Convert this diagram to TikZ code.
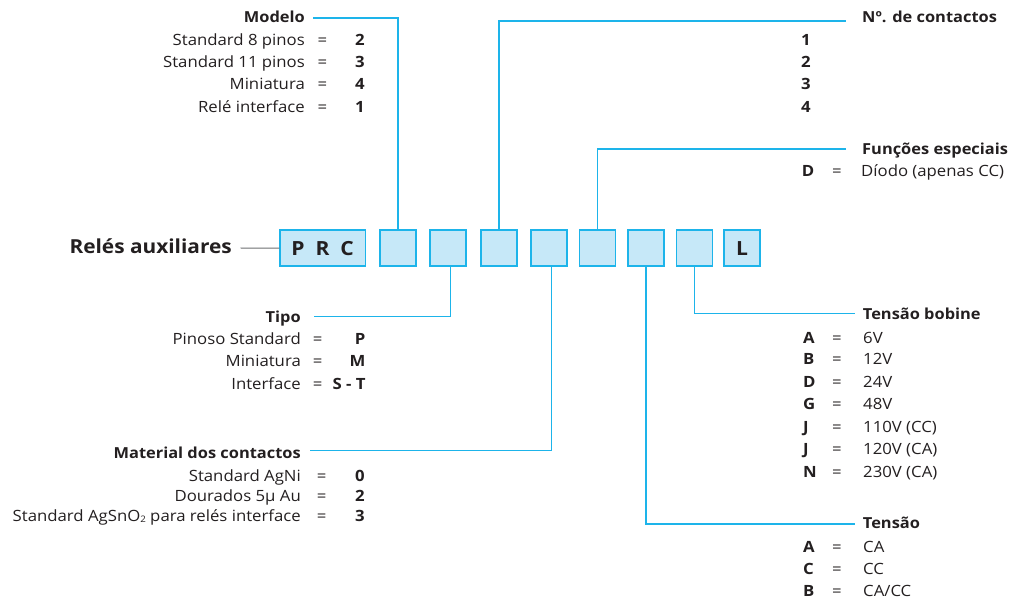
\documentclass[tikz,border=0pt]{standalone}
\usepackage{fontspec}
\setmainfont{Open Sans}[FakeStretch=1.08]
\definecolor{cyanline}{HTML}{1DB4EA}
\definecolor{boxfill}{HTML}{C6E8F8}
\definecolor{txt}{HTML}{231F20}
\definecolor{grayline}{HTML}{6D6E70}
\tikzset{
  codebox/.style={draw=cyanline, fill=boxfill, line width=1.3pt, inner sep=0pt, minimum width=36pt, minimum height=36pt, anchor=north west, text=txt, font=\fontsize{19.5}{22}\selectfont\bfseries},
  conn/.style={draw=cyanline, line width=1.3pt},
  lbl/.style={inner sep=0pt, text=txt, font=\fontsize{15.5}{18}\selectfont},
  lblb/.style={lbl, font=\fontsize{15.5}{18}\selectfont\bfseries},
  ttl/.style={inner sep=0pt, text=txt, font=\fontsize{15.2}{18}\selectfont\bfseries},
}
\begin{document}
\begin{tikzpicture}[x=1pt,y=-1pt]
\useasboundingbox (0,0) rectangle (1016,601);

% main title
\node[inner sep=0pt, text=txt, font=\fontsize{19.3}{22}\selectfont\bfseries, anchor=base east] (title) at (232,254) {Relés auxiliares};
\coordinate (tEnd) at (240.7,248);

% code boxes
\node[codebox, minimum width=85.4pt] (prc) at (279.3,229.5) {P\hspace{11pt}R\hspace{11pt}C};
\node[codebox] (b2) at (379.3,229.5) {};
\node[codebox] (b3) at (429.3,229.5) {};
\node[codebox] (b4) at (480.3,229.5) {};
\node[codebox] (b5) at (530.3,229.5) {};
\node[codebox] (b6) at (579,229.5) {};
\node[codebox] (b7) at (627.3,229.5) {};
\node[codebox] (b8) at (675.7,229.5) {};
\node[codebox] (bL) at (723.3,229.5) {L};

\draw[grayline, line width=1pt] (tEnd) -- (prc.west);

% connector end points
\coordinate (mEnd) at (313,18);
\coordinate (nEnd) at (846,21);
\coordinate (fEnd) at (846,149);
\coordinate (tiEnd) at (314,316.7);
\coordinate (maEnd) at (310,450.7);
\coordinate (bbEnd) at (855,313.3);
\coordinate (teEnd) at (855,524);

\draw[conn] (b2.north) |- (mEnd);
\draw[conn] (b4.north) |- (nEnd);
\draw[conn] (b6.north) |- (fEnd);
\draw[conn] ([xshift=2.7pt]b3.south) |- (tiEnd);
\draw[conn] ([xshift=2.2pt]b5.south) |- (maEnd);
\draw[conn] (b7.south) |- (teEnd);
\draw[conn] (b8.south) |- (bbEnd);

% Modelo
\node[ttl, anchor=base east] (modT) at (305,22.6) {Modelo};
\node[lbl, anchor=base east] (mod1) at (305,46) {Standard 8 pinos};
\node[lbl, anchor=base east] (mod2) at (305,68) {Standard 11 pinos};
\node[lbl, anchor=base east] (mod3) at (305,90) {Miniatura};
\node[lbl, anchor=base east] (mod4) at (305,112.6) {Relé interface};
\node[lbl, anchor=base] (mode1) at (322.3,46) {=};
\node[lbl, anchor=base] (mode2) at (322.3,68) {=};
\node[lbl, anchor=base] (mode3) at (322.3,90) {=};
\node[lbl, anchor=base] (mode4) at (322.3,112.6) {=};
\node[lblb, anchor=base] (modv1) at (360,46) {2};
\node[lblb, anchor=base] (modv2) at (360,68) {3};
\node[lblb, anchor=base] (modv3) at (360,90) {4};
\node[lblb, anchor=base] (modv4) at (360,112.6) {1};

% No. de contactos
\node[ttl, anchor=base west] (ncT) at (862,22.6) {Nº. de contactos};
\node[lblb, anchor=base] (nc1) at (806,46) {1};
\node[lblb, anchor=base] (nc2) at (806,68) {2};
\node[lblb, anchor=base] (nc3) at (806,90) {3};
\node[lblb, anchor=base] (nc4) at (806,112.6) {4};

% Funcoes especiais
\node[ttl, anchor=base west] (feT) at (862,154.3) {Funções especiais};
\node[lblb, anchor=base] (fe1) at (808,177) {D};
\node[lbl, anchor=base] (fee1) at (837,177) {=};
\node[lbl, anchor=base west] (fev1) at (861,177) {Díodo (apenas CC)};

% Tipo
\node[ttl, anchor=base east] (tiT) at (301,322) {Tipo};
\node[lbl, anchor=base east] (ti1) at (301,344.6) {Pinoso Standard};
\node[lbl, anchor=base east] (ti2) at (301,366.3) {Miniatura};
\node[lbl, anchor=base east] (ti3) at (301,389.3) {Interface};
\node[lbl, anchor=base] (tie1) at (317.7,344.6) {=};
\node[lbl, anchor=base] (tie2) at (317.7,366.3) {=};
\node[lbl, anchor=base] (tie3) at (317.7,389.3) {=};
\node[lblb, anchor=base east] (tiv1) at (365.7,344.6) {P};
\node[lblb, anchor=base east] (tiv2) at (365.7,366.3) {M};
\node[lblb, anchor=base east] (tiv3) at (365.7,389.3) {S - T};

% Material dos contactos
\node[ttl, anchor=base east] (maT) at (301,458) {Material dos contactos};
\node[lbl, anchor=base east] (ma1) at (301,481) {Standard AgNi};
\node[lbl, anchor=base east] (ma2) at (301,501) {Dourados 5µ Au};
\node[lbl, anchor=base east] (ma3) at (301,521.3) {Standard AgSnO\raisebox{-1.5pt}{\fontsize{9}{9}\selectfont 2} para relés interface};
\node[lbl, anchor=base] (mae1) at (321.7,481) {=};
\node[lbl, anchor=base] (mae2) at (321.7,501) {=};
\node[lbl, anchor=base] (mae3) at (321.7,521.3) {=};
\node[lblb, anchor=base] (mav1) at (360,481) {0};
\node[lblb, anchor=base] (mav2) at (360,501) {2};
\node[lblb, anchor=base] (mav3) at (360,521.3) {3};

% Tensao bobine
\node[ttl, anchor=base west] (bbT) at (862.7,319.3) {Tensão bobine};
\foreach \k/\c/\v/\yy in {1/A/6V/343, 2/B/12V/364.6, 3/D/24V/387, 4/G/48V/409.6, 5/J/110V (CC)/432, 6/J/120V (CA)/454.6, 7/N/230V (CA)/477}{
  \node[lblb, anchor=base west] (bbc\k) at (803,\yy) {\c};
  \node[lbl, anchor=base] (bbe\k) at (837,\yy) {=};
  \node[lbl, anchor=base west] (bbv\k) at (863,\yy) {\v};
}

% Tensao
\node[ttl, anchor=base west] (teT) at (862.7,528.3) {Tensão};
\foreach \k/\c/\v/\yy in {1/A/CA/552, 2/C/CC/574.3, 3/B/CA\slash CC/596}{
  \node[lblb, anchor=base west] (tec\k) at (803,\yy) {\c};
  \node[lbl, anchor=base] (tee\k) at (837,\yy) {=};
  \node[lbl, anchor=base west] (tev\k) at (863,\yy) {\v};
}
\end{tikzpicture}
\end{document}
